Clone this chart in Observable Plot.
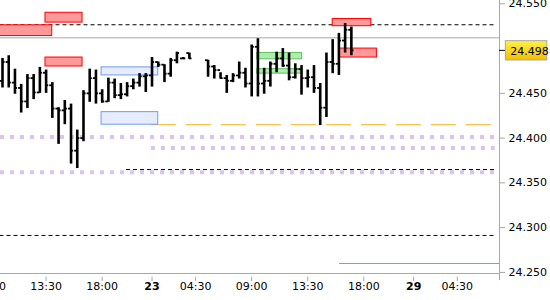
<!DOCTYPE html>
<html><head><meta charset="utf-8">
<script src="https://cdn.jsdelivr.net/npm/d3@7"></script>
<script src="https://cdn.jsdelivr.net/npm/@observablehq/plot@0.6"></script>
<style>html,body{margin:0;padding:0;background:#fff;} svg{display:block;overflow:visible}</style>
</head><body><div id="chart"></div>
<script>
// OHLC price bars (30-minute bars, index based; null = no bar)
const openP  = [24.464,24.485,24.462,24.456,24.441,24.467,24.451,24.473,24.459,24.433,24.431,24.433,24.386,24.400,24.450,24.467,24.450,24.441,24.462,24.448,24.449,24.458,24.462,24.469,24.470,24.485,24.482,24.472,24.487,24.489,24.495,null,null,24.487,24.480,24.476,24.467,24.464,24.470,24.473,24.461,24.502,24.461,24.464,24.483,24.489,24.481,24.468,24.477,24.467,24.468,24.456,24.434,24.485,24.483,24.509,24.521];
const highP  = [24.489,24.492,24.477,24.460,24.471,24.471,24.479,24.476,24.462,24.434,24.442,24.438,24.409,24.453,24.477,24.476,24.454,24.467,24.466,24.461,24.462,24.466,24.472,24.472,24.490,24.485,24.482,24.489,24.496,24.490,24.495,null,null,24.487,24.481,24.473,24.470,24.472,24.485,24.478,24.504,24.511,24.478,24.485,24.496,24.500,24.495,24.483,24.481,24.476,24.481,24.461,24.495,24.510,24.517,24.528,24.524];
const lowP   = [24.456,24.456,24.449,24.428,24.433,24.443,24.450,24.450,24.422,24.393,24.415,24.371,24.366,24.396,24.440,24.438,24.439,24.440,24.444,24.443,24.446,24.454,24.457,24.451,24.457,24.479,24.462,24.468,24.483,24.488,24.488,null,null,24.468,24.466,24.466,24.450,24.462,24.466,24.456,24.446,24.446,24.449,24.457,24.473,24.479,24.464,24.466,24.448,24.456,24.450,24.414,24.423,24.472,24.470,24.495,24.492];
const closeP = [24.485,24.462,24.456,24.441,24.467,24.451,24.473,24.459,24.433,24.431,24.433,24.386,24.400,24.450,24.467,24.450,24.441,24.462,24.448,24.449,24.458,24.462,24.469,24.470,24.485,24.482,24.472,24.487,24.495,24.489,24.489,null,null,24.480,24.476,24.467,24.464,24.470,24.473,24.461,24.502,24.461,24.464,24.483,24.489,24.481,24.468,24.477,24.467,24.468,24.456,24.434,24.485,24.483,24.509,24.521,24.498];

// time axis labels (at bar index)
const xTickIdx    = [-2, 7, 16, 24, 31, 40, 49, 58, 66, 73];
const xTickLabels = ["09:00","13:30","18:00","23","04:30","09:00","13:30","18:00","29","04:30"];
const xTickBold   = [false,false,false,true,false,false,false,false,true,false];
const yTicks = [24.25, 24.30, 24.35, 24.40, 24.45, 24.55];
const lastPrice = 24.498;

// zones (bar index range, price range)
const redZones = [
  {x1: 6.9,  x2: 12.85, y1: 24.529, y2: 24.540},
  {x1: -0.4, x2: 7.98,  y1: 24.514, y2: 24.526},
  {x1: 6.9,  x2: 12.85, y1: 24.480, y2: 24.490},
  {x1: 53.0, x2: 59.2,  y1: 24.525, y2: 24.533},
  {x1: 54.1, x2: 60.1,  y1: 24.490, y2: 24.500}
];
const blueZones = [
  {x1: 15.9, x2: 25.0, y1: 24.470, y2: 24.479},
  {x1: 15.9, x2: 25.0, y1: 24.415, y2: 24.429}
];
const greenZones = [
  {x1: 40.9, x2: 48.1, y1: 24.488, y2: 24.495},
  {x1: 40.9, x2: 48.1, y1: 24.472, y2: 24.477}
];

// horizontal levels
const dashedLevels = [
  {y: 24.5266, x1: -0.4, x2: 79.1},
  {y: 24.3649, x1: 19.9, x2: 79.1},
  {y: 24.2913, x1: -0.4, x2: 79.1}
];
const dottedLevels = [
  {y: 24.4012, x1: -0.321, x2: 79.1},
  {y: 24.3890, x1: 23.9, x2: 79.1},
  {y: 24.3619, x1: -0.321, x2: 79.1}
];
const orangeLevels = [{y: 24.415, x1: 23.9, x2: 78.6}];
const grayLevels   = [{y: 24.512, x1: -0.4, x2: 79.78}];
const greenLevels  = [{y: 24.260, x1: 54.1, x2: 79.78}];

const bars = openP.map((o, i) => ({i, o, h: highP[i], l: lowP[i], c: closeP[i]})).filter(d => d.o != null);
const xTicks = xTickIdx.map((i, k) => ({i, label: xTickLabels[k], bold: xTickBold[k]}));

const xMin = -0.321, xMax = 79.78;
const yMin = 24.2488, yMax = 24.5537;

const defs = () => {
  const d = d3.create("svg:defs");
  const g = d.append("linearGradient").attr("id", "gold").attr("x1", 0).attr("y1", 0).attr("x2", 0).attr("y2", 1);
  g.append("stop").attr("offset", "0%").attr("stop-color", "#fff04a");
  g.append("stop").attr("offset", "100%").attr("stop-color", "#f3bf00");
  return d.node();
};

const chart = Plot.plot({
  width: 550, height: 300,
  marginLeft: 0, marginRight: 51, marginTop: 0, marginBottom: 27,
  x: {domain: [xMin, xMax], axis: null},
  y: {domain: [yMin, yMax], axis: null},
  style: {fontFamily: "DejaVu Sans", fontSize: "11px", background: "#fff", overflow: "visible"},
  marks: [
    defs,
    Plot.ruleY(grayLevels, {y: "y", x1: "x1", x2: "x2", stroke: "#a8a8a8"}),
    Plot.ruleY(dottedLevels, {y: "y", x1: "x1", x2: "x2", stroke: "#dcc3ee", strokeWidth: 4, strokeDasharray: "4,6"}),
    Plot.ruleY(dashedLevels, {y: "y", x1: "x1", x2: "x2", stroke: "#000", strokeDasharray: "4,3"}),
    Plot.ruleY(orangeLevels, {y: "y", x1: "x1", x2: "x2", stroke: "#fbb325", strokeDasharray: "25,10"}),
    Plot.ruleY(greenLevels, {y: "y", x1: "x1", x2: "x2", stroke: "#5cc45c"}),
    Plot.rect(redZones, {x1: "x1", x2: "x2", y1: "y1", y2: "y2", fill: "#ff9898", stroke: "#ff0000"}),
    Plot.rect(blueZones, {x1: "x1", x2: "x2", y1: "y1", y2: "y2", fill: "#e6ecfd", stroke: "#6b9cf2"}),
    Plot.rect(greenZones, {x1: "x1", x2: "x2", y1: "y1", y2: "y2", fill: "#b2eab2", stroke: "#58c458"}),
    // OHLC bars
    Plot.ruleX(bars, {x: "i", y1: "l", y2: "h", stroke: "#000", strokeWidth: 2.6}),
    Plot.ruleY(bars, {y: "o", x1: d => d.i - 0.42, x2: "i", stroke: "#000", strokeWidth: 1.8}),
    Plot.ruleY(bars, {y: "c", x1: "i", x2: d => d.i + 0.42, stroke: "#000", strokeWidth: 1.8}),
    // axis frame lines
    Plot.ruleY([yMin], {x1: xMin, x2: xMax, stroke: "#a8a8a8"}),
    Plot.ruleX([xMax], {y1: yMax, y2: 24.241, stroke: "#a8a8a8"}),
    // y axis
    Plot.axisY({anchor: "right", ticks: yTicks, tickSize: 5, tickPadding: 4, tickFormat: d3.format(".3f"), stroke: "#a8a8a8", color: "#000"}),
    // x axis ticks and labels
    Plot.ruleX(xTicks, {x: "i", y1: 24.2448, y2: 24.2398, stroke: "#a8a8a8"}),
    Plot.text(xTicks.filter(d => !d.bold), {x: "i", text: "label", frameAnchor: "bottom", dy: 16, fill: "#000"}),
    Plot.text(xTicks.filter(d => d.bold), {x: "i", text: "label", frameAnchor: "bottom", dy: 16, fill: "#000", fontWeight: "bold"}),
    // current price marker
    Plot.ruleY([lastPrice], {y: d => d, x1: xMax, x2: 80.75, stroke: "#000"}),
    Plot.rect([lastPrice], {x1: 80.8, x2: 87.45, y1: d => d + 0.0103, y2: d => d - 0.0113, fill: "url(#gold)", stroke: "#a8a8a8"}),
    Plot.text([lastPrice], {x: 81.5, y: d => d, dy: 1, text: d => d3.format(".3f")(d), textAnchor: "start", fill: "#000"})
  ]
});
document.getElementById("chart").appendChild(chart);
</script>
</body></html>
